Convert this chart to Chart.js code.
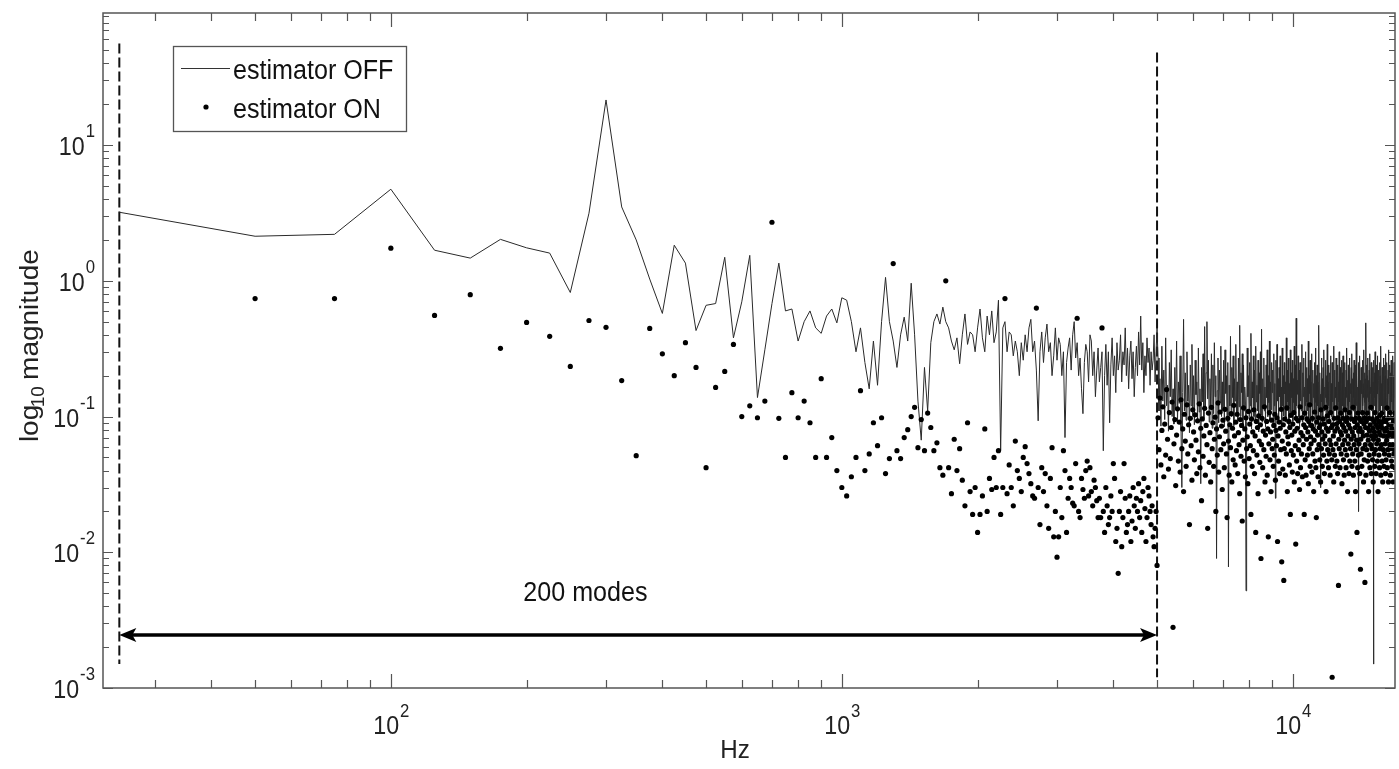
<!DOCTYPE html>
<html>
<head>
<meta charset="utf-8">
<script src="https://cdn.jsdelivr.net/npm/chart.js@4.4.1/dist/chart.umd.min.js"></script>
<style>
  html, body { margin: 0; padding: 0; background: #fff; }
</style>
</head>
<body>
<canvas id="chart" width="1399" height="769"></canvas>
<script>
// modes are spaced 25 Hz apart, first mode at 25 Hz
const MODE_STEP = 25;

// magnitude per mode, estimator OFF (solid line)
const offMag = [
  3.2, 2.13, 2.2, 4.73, 1.68, 1.47, 2.02, 1.75, 1.6, 0.82,
  3.15, 21.5, 3.5, 2.0, 1.03, 0.575, 1.83, 1.35, 0.43, 0.66,
  0.68, 1.49, 0.38, 0.7, 1.54, 0.138, 0.31, 0.68, 1.35, 0.6,
  0.62, 0.36, 0.5, 0.6, 0.45, 0.41, 0.55, 0.62, 0.49, 0.75,
  0.72, 0.5, 0.3, 0.45, 0.25, 0.16, 0.36, 0.17, 0.5, 1.06,
  0.5, 0.36, 0.23, 0.4, 0.54, 0.36, 0.96, 0.4, 0.13, 0.067,
  0.23, 0.11, 0.35, 0.5, 0.57, 0.48, 0.64, 0.5, 0.45, 0.36,
  0.31, 0.38, 0.245, 0.4, 0.57, 0.34, 0.42, 0.4, 0.3, 0.45,
  0.62, 0.38, 0.3, 0.55, 0.4, 0.6, 0.35, 0.42, 0.72, 0.056,
  0.45, 0.5, 0.3, 0.42, 0.4, 0.28, 0.36, 0.3, 0.2, 0.35,
  0.26, 0.4, 0.3, 0.45, 0.52, 0.3, 0.36, 0.22, 0.093, 0.3,
  0.42, 0.25, 0.38, 0.48, 0.3, 0.35, 0.2, 0.28, 0.45, 0.26,
  0.38, 0.34, 0.2, 0.3, 0.07, 0.25, 0.32, 0.38, 0.22, 0.4,
  0.5, 0.27, 0.35, 0.2, 0.27, 0.16, 0.105, 0.25, 0.34, 0.3,
  0.18, 0.4, 0.36, 0.2, 0.3, 0.14, 0.22, 0.32, 0.18, 0.23,
  0.3, 0.056, 0.2, 0.34, 0.17, 0.3, 0.09, 0.24, 0.38, 0.2,
  0.28, 0.15, 0.35, 0.22, 0.26, 0.4, 0.18, 0.3, 0.24, 0.45,
  0.2, 0.32, 0.16, 0.28, 0.36, 0.19, 0.3, 0.14, 0.23, 0.33,
  0.2, 0.42, 0.24, 0.55, 0.22, 0.35, 0.15, 0.28, 0.2, 0.38,
  0.25, 0.32, 0.17, 0.3, 0.22, 0.26, 0.4, 0.18, 0.3, 0.45,
  // above 5 kHz
  0.27, 0.11, 0.19, 0.085, 0.33, 0.13, 0.22, 0.095, 0.38, 0.12, 0.17, 0.078, 0.25, 0.14, 0.31, 0.1, 0.16, 0.088, 0.23, 0.115,
  0.36, 0.092, 0.18, 0.125, 0.28, 0.083, 0.03, 0.15, 0.52, 0.11, 0.21, 0.094, 0.3, 0.13, 0.17, 0.076, 0.24, 0.12, 0.34, 0.1,
  0.2, 0.087, 0.26, 0.145, 0.18, 0.093, 0.32, 0.108, 0.16, 0.032, 0.23, 0.128, 0.29, 0.098, 0.46, 0.118, 0.21, 0.5, 0.135, 0.26,
  0.091, 0.19, 0.12, 0.29, 0.082, 0.24, 0.105, 0.35, 0.14, 0.2, 0.009, 0.155, 0.27, 0.09, 0.22, 0.127, 0.33, 0.1, 0.18, 0.11,
  0.26, 0.084, 0.31, 0.148, 0.2, 0.092, 0.25, 0.0078, 0.17, 0.12, 0.39, 0.1, 0.23, 0.138, 0.28, 0.086, 0.19, 0.13, 0.34, 0.107,
  0.18, 0.094, 0.27, 0.118, 0.47, 0.1, 0.21, 0.15, 0.29, 0.083, 0.24, 0.11, 0.165, 0.128, 0.0052, 0.092, 0.32, 0.14, 0.2, 0.1,
  0.25, 0.12, 0.41, 0.081, 0.18, 0.137, 0.28, 0.1, 0.22, 0.093, 0.33, 0.128, 0.17, 0.11, 0.26, 0.077, 0.21, 0.148, 0.3, 0.102,
  0.44, 0.091, 0.19, 0.12, 0.27, 0.11, 0.165, 0.084, 0.24, 0.138, 0.31, 0.1, 0.2, 0.127, 0.36, 0.093, 0.18, 0.112, 0.25, 0.15,
  0.22, 0.083, 0.29, 0.12, 0.175, 0.025, 0.26, 0.1, 0.34, 0.13, 0.19, 0.092, 0.23, 0.14, 0.28, 0.11, 0.165, 0.086, 0.32, 0.12,
  0.2, 0.101, 0.25, 0.147, 0.18, 0.091, 0.38, 0.11, 0.22, 0.128, 0.27, 0.083, 0.175, 0.12, 0.31, 0.1, 0.21, 0.138, 0.26, 0.092,
  0.19, 0.127, 0.33, 0.11, 0.24, 0.093, 0.53, 0.12, 0.185, 0.146, 0.28, 0.1, 0.22, 0.082, 0.25, 0.13, 0.17, 0.11, 0.34, 0.091,
  0.21, 0.14, 0.27, 0.1, 0.165, 0.12, 0.3, 0.092, 0.23, 0.128, 0.19, 0.11, 0.36, 0.083, 0.2, 0.148, 0.26, 0.1, 0.18, 0.12,
  0.29, 0.091, 0.22, 0.138, 0.175, 0.11, 0.25, 0.084, 0.32, 0.127, 0.2, 0.1, 0.24, 0.12, 0.18, 0.092, 0.47, 0.11, 0.21, 0.146,
  0.03, 0.1, 0.27, 0.128, 0.19, 0.091, 0.23, 0.12, 0.31, 0.11, 0.165, 0.138, 0.26, 0.083, 0.2, 0.127, 0.34, 0.1, 0.18, 0.12,
  0.24, 0.092, 0.21, 0.147, 0.28, 0.11, 0.175, 0.1, 0.25, 0.128, 0.19, 0.082, 0.33, 0.12, 0.22, 0.11, 0.165, 0.138, 0.27, 0.091,
  0.2, 0.12, 0.24, 0.1, 0.18, 0.128, 0.3, 0.092, 0.23, 0.11, 0.175, 0.146, 0.26, 0.1, 0.21, 0.12, 0.28, 0.083, 0.19, 0.127,
  0.25, 0.11, 0.165, 0.091, 0.22, 0.138, 0.32, 0.1, 0.185, 0.12, 0.24, 0.11, 0.2, 0.128, 0.27, 0.092, 0.175, 0.147, 0.23, 0.1,
  0.29, 0.12, 0.19, 0.11, 0.21, 0.138, 0.26, 0.091, 0.18, 0.127, 0.24, 0.1, 0.35, 0.12, 0.2, 0.11, 0.165, 0.138, 0.25, 0.02,
  0.22, 0.1, 0.28, 0.128, 0.185, 0.11, 0.23, 0.147, 0.2, 0.092, 0.26, 0.12, 0.175, 0.138, 0.31, 0.1, 0.21, 0.127, 0.19, 0.11,
  0.49, 0.12, 0.24, 0.092, 0.2, 0.138, 0.27, 0.11, 0.185, 0.128, 0.22, 0.1, 0.29, 0.12, 0.165, 0.147, 0.25, 0.11, 0.2, 0.127,
  0.23, 0.091, 0.18, 0.0015, 0.26, 0.12, 0.21, 0.138, 0.3, 0.1, 0.175, 0.128, 0.24, 0.11, 0.19, 0.147, 0.28, 0.1, 0.22, 0.12,
  0.185, 0.138, 0.25, 0.11, 0.2, 0.092, 0.33, 0.128, 0.175, 0.12, 0.23, 0.1, 0.21, 0.147, 0.27, 0.11, 0.185, 0.128, 0.24, 0.091,
  0.2, 0.12, 0.29, 0.138, 0.165, 0.11, 0.25, 0.128, 0.19, 0.1, 0.22, 0.147, 0.31, 0.12, 0.185, 0.11, 0.24, 0.138, 0.21, 0.1,
  0.26, 0.128, 0.185, 0.11, 0.23, 0.147, 0.28, 0.12, 0.2, 0.1, 0.25, 0.138, 0.175, 0.11, 0.22, 0.128, 0.27, 0.12, 0.19
];

// magnitude per mode, estimator ON (dots); no dot at the first mode
const onMag = [
  null, 0.74, 0.74, 1.74, 0.556, 0.79, 0.318, 0.494, 0.39, 0.234,
  0.51, 0.454, 0.184, 0.0515, 0.446, 0.29, 0.2, 0.35, 0.23, 0.042,
  0.164, 0.215, 0.34, 0.1, 0.12, 0.098, 0.13, 2.7, 0.097, 0.05,
  0.15, 0.098, 0.13, 0.09, 0.05, 0.19, 0.05, 0.07, 0.04, 0.03,
  0.026, 0.036, 0.05, 0.155, 0.04, 0.053, 0.09, 0.061, 0.098, 0.038,
  0.049, 1.34, 0.056, 0.049, 0.07, 0.08, 0.1, 0.117, 0.059, 0.095,
  0.056, 0.106, 0.083, 0.056, 0.064, 0.042, 0.037, 1.0, 0.042, 0.027,
  0.068, 0.04, 0.058, 0.034, 0.022, 0.09, 0.028, 0.019, 0.03, 0.014,
  0.019, 0.026, 0.081, 0.02, 0.035, 0.029, 0.05, 0.03, 0.056, 0.019,
  0.03, 0.74, 0.027, 0.044, 0.03, 0.022, 0.066, 0.04, 0.035, 0.028,
  0.05, 0.06, 0.045, 0.038, 0.032, 0.026, 0.025, 0.63, 0.03, 0.016,
  0.042, 0.028, 0.038, 0.022, 0.015, 0.035, 0.059, 0.013, 0.02, 0.0092,
  0.013, 0.03, 0.018, 0.056, 0.04, 0.014, 0.025, 0.035, 0.03, 0.023,
  0.022, 0.045, 0.53, 0.02, 0.018, 0.035, 0.029, 0.025, 0.04, 0.047,
  0.026, 0.042, 0.028, 0.022, 0.034, 0.03, 0.024, 0.018, 0.025, 0.018,
  0.45, 0.02, 0.014, 0.03, 0.022, 0.016, 0.018, 0.026, 0.02, 0.045,
  0.035, 0.012, 0.015, 0.007, 0.02, 0.028, 0.011, 0.018, 0.045, 0.025,
  0.014, 0.016, 0.02, 0.026, 0.012, 0.017, 0.03, 0.022, 0.015, 0.025,
  0.02, 0.032, 0.018, 0.024, 0.014, 0.028, 0.035, 0.021, 0.012, 0.018,
  0.03, 0.026, 0.02, 0.016, 0.022, 0.013, 0.011, 0.015, 0.02, 0.008,
  // above 5 kHz
  0.098, 0.057, 0.137, 0.044, 0.079, 0.118, 0.036, 0.088, 0.052, 0.158, 0.068, 0.041, 0.107, 0.049, 0.083, 0.128, 0.0028, 0.063, 0.095, 0.031,
  0.073, 0.114, 0.047, 0.091, 0.039, 0.133, 0.058, 0.081, 0.028, 0.104, 0.066, 0.043, 0.122, 0.053, 0.087, 0.016, 0.097, 0.061, 0.034, 0.112,
  0.077, 0.048, 0.103, 0.067, 0.038, 0.093, 0.055, 0.124, 0.042, 0.082, 0.024, 0.096, 0.051, 0.072, 0.115, 0.037, 0.086, 0.062, 0.015, 0.106,
  0.046, 0.076, 0.033, 0.117, 0.058, 0.09, 0.043, 0.068, 0.099, 0.02, 0.081, 0.052, 0.126, 0.039, 0.071, 0.108, 0.057, 0.085, 0.029, 0.094,
  0.063, 0.042, 0.113, 0.078, 0.053, 0.018, 0.097, 0.066, 0.037, 0.087, 0.059, 0.105, 0.033, 0.082, 0.048, 0.121, 0.072, 0.044, 0.091, 0.056,
  0.104, 0.038, 0.076, 0.062, 0.027, 0.095, 0.051, 0.086, 0.017, 0.067, 0.116, 0.047, 0.081, 0.036, 0.098, 0.058, 0.071, 0.032, 0.109, 0.049,
  0.088, 0.061, 0.019, 0.096, 0.043, 0.077, 0.056, 0.112, 0.038, 0.072, 0.014, 0.092, 0.052, 0.083, 0.027, 0.101, 0.066, 0.046, 0.087, 0.009,
  0.062, 0.097, 0.042, 0.078, 0.057, 0.118, 0.033, 0.073, 0.051, 0.092, 0.037, 0.081, 0.013, 0.063, 0.107, 0.048, 0.077, 0.028, 0.094, 0.058,
  0.068, 0.043, 0.086, 0.052, 0.104, 0.034, 0.079, 0.061, 0.098, 0.012, 0.072, 0.047, 0.091, 0.038, 0.082, 0.057, 0.113, 0.0085, 0.066, 0.041,
  0.087, 0.0062, 0.058, 0.096, 0.037, 0.077, 0.053, 0.116, 0.028, 0.071, 0.063, 0.092, 0.044, 0.083, 0.019, 0.102, 0.056, 0.073, 0.039, 0.088,
  0.052, 0.107, 0.033, 0.078, 0.061, 0.0115, 0.097, 0.047, 0.082, 0.038, 0.093, 0.057, 0.067, 0.029, 0.118, 0.042, 0.076, 0.053, 0.098, 0.036,
  0.072, 0.062, 0.087, 0.019, 0.106, 0.048, 0.083, 0.037, 0.068, 0.096, 0.052, 0.077, 0.032, 0.092, 0.058, 0.122, 0.043, 0.071, 0.063, 0.086,
  0.039, 0.097, 0.053, 0.081, 0.028, 0.067, 0.108, 0.047, 0.078, 0.042, 0.018, 0.091, 0.057, 0.073, 0.036, 0.098, 0.062, 0.083, 0.048, 0.087,
  0.033, 0.112, 0.058, 0.077, 0.043, 0.068, 0.096, 0.052, 0.088, 0.038, 0.072, 0.063, 0.117, 0.028, 0.082, 0.047, 0.101, 0.057, 0.078, 0.042,
  0.092, 0.053, 0.067, 0.037, 0.107, 0.062, 0.083, 0.048, 0.0012, 0.087, 0.057, 0.072, 0.033, 0.097, 0.052, 0.078, 0.043, 0.116, 0.063, 0.088,
  0.047, 0.082, 0.038, 0.098, 0.0057, 0.068, 0.058, 0.092, 0.042, 0.077, 0.106, 0.053, 0.073, 0.032, 0.087, 0.062, 0.097, 0.048, 0.083, 0.037,
  0.067, 0.112, 0.057, 0.078, 0.042, 0.092, 0.052, 0.098, 0.028, 0.072, 0.063, 0.087, 0.038, 0.107, 0.047, 0.082, 0.058, 0.0097, 0.068, 0.096,
  0.043, 0.077, 0.053, 0.117, 0.037, 0.072, 0.062, 0.092, 0.047, 0.083, 0.028, 0.097, 0.057, 0.067, 0.014, 0.087, 0.042, 0.106, 0.052, 0.078,
  0.063, 0.097, 0.038, 0.082, 0.0075, 0.068, 0.053, 0.092, 0.043, 0.077, 0.107, 0.058, 0.072, 0.033, 0.088, 0.048, 0.098, 0.006, 0.062, 0.083,
  0.037, 0.092, 0.057, 0.073, 0.106, 0.047, 0.082, 0.067, 0.028, 0.097, 0.052, 0.078, 0.042, 0.087, 0.062, 0.117, 0.038, 0.072, 0.058, 0.096,
  0.048, 0.082, 0.033, 0.068, 0.092, 0.053, 0.077, 0.043, 0.107, 0.057, 0.072, 0.038, 0.087, 0.063, 0.097, 0.047, 0.083, 0.028, 0.067, 0.092,
  0.052, 0.077, 0.042, 0.102, 0.058, 0.073, 0.037, 0.087, 0.062, 0.106, 0.047, 0.082, 0.033, 0.092, 0.057, 0.072, 0.043, 0.097, 0.053, 0.078,
  0.063, 0.038, 0.092, 0.048, 0.082, 0.067, 0.116, 0.042, 0.072, 0.057, 0.097, 0.033, 0.087, 0.052, 0.077, 0.062, 0.107, 0.037, 0.073, 0.058,
  0.087, 0.047, 0.082, 0.043, 0.097, 0.062, 0.072, 0.033, 0.092, 0.053, 0.077, 0.057, 0.106, 0.042, 0.068, 0.087, 0.048, 0.083, 0.063
];

// dashed markers at the first and last of the 200 modes
const markerFreq = [25, 5000];
const markerTop = [56, 48];
const markerBottom = [0.0015, 0.0012];

// double arrow spanning the modes
const arrowFreq = [25, 5000];
const arrowLevel = 0.00246;
const spanText = "200 modes";
const spanTextAt = { x: 270, y: 0.0051 };

const xDecades = [100, 1000, 10000];
const yDecades = [10, 1, 0.1, 0.01, 0.001];

const FONT = '"Liberation Sans", Arial, Helvetica, sans-serif';
const SX = 0.93; // labels are a bit narrow

const toPoints = arr => arr.map((v, i) => ({ x: (i + 1) * MODE_STEP, y: v }));

function text(ctx, str, x, y, size, align, rotate) {
  ctx.save();
  ctx.translate(x, y);
  ctx.scale(SX, 1);
  if (rotate) ctx.rotate(-Math.PI / 2);
  ctx.font = size + 'px ' + FONT;
  ctx.textAlign = align || 'left';
  ctx.fillText(str, 0, 0);
  ctx.restore();
}

function textWidth(ctx, str, size) {
  ctx.save();
  ctx.font = size + 'px ' + FONT;
  const w = ctx.measureText(str).width * SX;
  ctx.restore();
  return w;
}

function logTicks(min, max) {
  const out = [];
  for (let e = Math.floor(Math.log10(min)); e <= Math.ceil(Math.log10(max)); e++) {
    for (let m = 1; m < 10; m++) {
      const v = m * Math.pow(10, e);
      if (v >= min * 0.999 && v <= max * 1.001) out.push({ v, major: m === 1 });
    }
  }
  return out;
}

// axes box, inward ticks, decade labels, titles, legend and the span arrow
const decor = {
  id: 'decor',
  afterDraw(chart) {
    const ctx = chart.ctx;
    const a = chart.chartArea;
    const xs = chart.scales.x, ys = chart.scales.y;
    ctx.save();
    ctx.fillStyle = '#111';

    // box
    ctx.strokeStyle = '#555';
    ctx.lineWidth = 1.5;
    ctx.strokeRect(a.left, a.top, a.right - a.left, a.bottom - a.top);

    // ticks
    ctx.lineWidth = 1.2;
    ctx.beginPath();
    logTicks(xs.min, xs.max).forEach(t => {
      const px = Math.round(xs.getPixelForValue(t.v)) + 0.5;
      const len = t.major ? 14 : 8;
      ctx.moveTo(px, a.bottom); ctx.lineTo(px, a.bottom - len);
      ctx.moveTo(px, a.top); ctx.lineTo(px, a.top + len);
    });
    logTicks(ys.min, ys.max).forEach(t => {
      const py = Math.round(ys.getPixelForValue(t.v)) + 0.5;
      const len = t.major ? 10 : 6;
      ctx.moveTo(a.left, py); ctx.lineTo(a.left + len, py);
      ctx.moveTo(a.right, py); ctx.lineTo(a.right - len, py);
    });
    ctx.stroke();

    // decade labels
    ctx.fillStyle = '#222';
    xDecades.forEach(v => {
      const px = xs.getPixelForValue(v);
      const e = String(Math.round(Math.log10(v)));
      const wb = textWidth(ctx, '10', 25), we = textWidth(ctx, e, 18);
      const x0 = px - (wb + we) / 2;
      text(ctx, '10', x0, a.bottom + 46, 25);
      text(ctx, e, x0 + wb + 1, a.bottom + 29, 18);
    });
    yDecades.forEach(v => {
      const py = ys.getPixelForValue(v);
      const e = String(Math.round(Math.log10(v)));
      const we = textWidth(ctx, e, 18);
      const xe = 95 - we;
      text(ctx, '10', xe - 1, py + 10, 25, 'right');
      text(ctx, e, xe, py - 8, 18);
    });

    // axis titles
    text(ctx, 'Hz', 735, 758, 26, 'center');
    const cy = (a.top + a.bottom) / 2;
    const wLog = textWidth(ctx, 'log', 28), wSub = textWidth(ctx, '10', 19), wMag = textWidth(ctx, ' magnitude', 28);
    const total = wLog + wSub + wMag;
    const xt = 38;
    let yy = cy + total / 2;
    text(ctx, 'log', xt, yy, 28, 'left', true);
    yy -= wLog;
    text(ctx, '10', xt + 6, yy, 19, 'left', true);
    yy -= wSub;
    text(ctx, ' magnitude', xt, yy, 28, 'left', true);

    // span arrow
    const ay = ys.getPixelForValue(arrowLevel);
    const ax0 = xs.getPixelForValue(arrowFreq[0]), ax1 = xs.getPixelForValue(arrowFreq[1]);
    ctx.strokeStyle = '#000';
    ctx.fillStyle = '#000';
    ctx.lineWidth = 3.5;
    ctx.beginPath();
    ctx.moveTo(ax0 + 8, ay); ctx.lineTo(ax1 - 8, ay);
    ctx.stroke();
    [[ax0, 1], [ax1, -1]].forEach(([tx, d]) => {
      ctx.beginPath();
      ctx.moveTo(tx, ay);
      ctx.lineTo(tx + d * 17, ay - 7);
      ctx.lineTo(tx + d * 13, ay);
      ctx.lineTo(tx + d * 17, ay + 7);
      ctx.closePath();
      ctx.fill();
    });
    ctx.fillStyle = '#111';
    text(ctx, spanText, xs.getPixelForValue(spanTextAt.x), ys.getPixelForValue(spanTextAt.y) + 9, 27, 'center');

    // legend
    ctx.fillStyle = '#fff';
    ctx.fillRect(173, 46, 233, 85);
    ctx.strokeStyle = '#555';
    ctx.lineWidth = 1.3;
    ctx.strokeRect(173.5, 46.5, 233, 85);
    ctx.strokeStyle = '#333';
    ctx.lineWidth = 1.2;
    ctx.beginPath();
    ctx.moveTo(181, 68.5); ctx.lineTo(230, 68.5);
    ctx.stroke();
    ctx.fillStyle = '#000';
    ctx.beginPath();
    ctx.arc(206, 107, 2.6, 0, Math.PI * 2);
    ctx.fill();
    ctx.fillStyle = '#111';
    text(ctx, 'estimator OFF', 233, 79, 27);
    text(ctx, 'estimator ON', 233, 118, 27);

    ctx.restore();
  }
};

const markerSets = markerFreq.map((f, i) => ({
  type: 'line',
  data: [{ x: f, y: markerTop[i] }, { x: f, y: markerBottom[i] }],
  borderColor: '#111',
  borderWidth: 2,
  borderDash: [10, 4],
  pointRadius: 0
}));

new Chart(document.getElementById('chart'), {
  data: {
    datasets: [
      {
        type: 'scatter',
        label: 'estimator ON',
        data: toPoints(onMag),
        pointRadius: 2.6,
        pointBorderWidth: 0,
        pointBackgroundColor: '#000',
        backgroundColor: '#000'
      },
      {
        type: 'line',
        label: 'estimator OFF',
        data: toPoints(offMag),
        borderColor: '#2a2a2a',
        borderWidth: 1,
        pointRadius: 0,
        tension: 0
      },
      ...markerSets
    ]
  },
  options: {
    responsive: false,
    animation: false,
    layout: { padding: { top: 13, right: 1, left: 0, bottom: 0 } },
    plugins: { legend: { display: false }, tooltip: { enabled: false } },
    scales: {
      x: {
        type: 'logarithmic',
        min: 23,
        max: 16850,
        grid: { display: false },
        border: { display: false },
        ticks: { display: false },
        afterFit(s) { s.height = 81; }
      },
      y: {
        type: 'logarithmic',
        min: 0.001,
        max: 94,
        grid: { display: false },
        border: { display: false },
        ticks: { display: false },
        afterFit(s) { s.width = 103; }
      }
    }
  },
  plugins: [decor]
});
</script>
</body>
</html>
